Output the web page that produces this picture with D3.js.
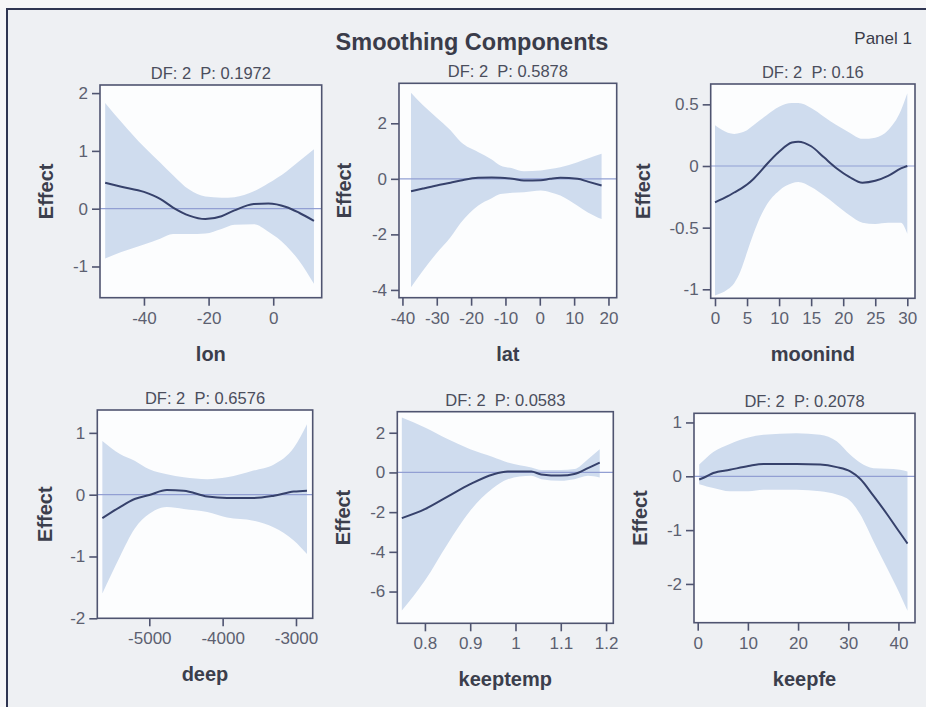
<!DOCTYPE html>
<html>
<head>
<meta charset="utf-8">
<script src="https://cdn.jsdelivr.net/npm/d3@7"></script>
<style>
  html, body { margin: 0; padding: 0; background: #f6f6f8; }
  svg { display: block; font-family: "Liberation Sans", Arial, sans-serif; }
</style>
</head>
<body>
<svg id="chart" width="926" height="707"></svg>
<script>
// ---------------- DATA ----------------
const chartTitle = "Smoothing Components";
const panelTag = "Panel 1";
const panelVars = ["lon", "lat", "moonind", "deep", "keeptemp", "keepfe"];
const panelStats = ["DF: 2  P: 0.1972", "DF: 2  P: 0.5878", "DF: 2  P: 0.16",
                    "DF: 2  P: 0.6576", "DF: 2  P: 0.0583", "DF: 2  P: 0.2078"];
const yLabel = "Effect";

// lon
const lonX     = [-52, -47, -40, -35, -31, -26, -21, -16, -12, -6, -1.5, 4, 8, 12.6];
const lonFit   = [0.45, 0.38, 0.29, 0.17, 0.02, -0.12, -0.18, -0.13, -0.03, 0.08, 0.09, 0.03, -0.07, -0.21];
const lonUpper = [1.83, 1.5, 1.07, 0.8, 0.58, 0.33, 0.21, 0.19, 0.2, 0.3, 0.44, 0.64, 0.82, 1.03];
const lonLower = [-0.86, -0.75, -0.62, -0.52, -0.44, -0.44, -0.43, -0.35, -0.28, -0.27, -0.4, -0.64, -0.9, -1.3];

// lat
const latX     = [-37.5, -34, -30, -26, -23, -18, -14, -11.5, -8, -4.6, 0.3, 3, 6, 11, 14, 18];
const latFit   = [-0.45, -0.35, -0.24, -0.14, -0.06, 0.04, 0.05, 0.04, 0.0, -0.06, -0.05, 0.0, 0.04, 0.0, -0.1, -0.24];
const latUpper = [3.1, 2.65, 2.2, 1.75, 1.33, 0.97, 0.7, 0.48, 0.38, 0.27, 0.3, 0.35, 0.42, 0.6, 0.73, 0.9];
const latLower = [-3.9, -3.3, -2.67, -2.1, -1.58, -0.97, -0.7, -0.55, -0.5, -0.48, -0.42, -0.48, -0.6, -0.97, -1.21, -1.45];

// moonind
const moonX     = [0, 2, 3, 4, 5, 6, 7, 8, 10, 12, 13, 15, 17, 19, 21, 23, 25, 27, 29, 30];
const moonFit   = [-0.295, -0.245, -0.215, -0.185, -0.15, -0.105, -0.05, 0.01, 0.116, 0.19, 0.197, 0.16, 0.07, -0.02, -0.09, -0.135, -0.12, -0.08, -0.02, 0.0];
const moonUpper = [0.33, 0.27, 0.26, 0.27, 0.29, 0.33, 0.37, 0.41, 0.48, 0.51, 0.51, 0.47, 0.4, 0.33, 0.27, 0.22, 0.23, 0.29, 0.45, 0.59];
const moonLower = [-1.05, -1.0, -0.95, -0.85, -0.7, -0.55, -0.42, -0.32, -0.2, -0.14, -0.13, -0.17, -0.24, -0.32, -0.4, -0.46, -0.47, -0.46, -0.46, -0.55];

// deep
const deepX     = [-5640, -5400, -5200, -5000, -4760, -4530, -4210, -3940, -3580, -3300, -3030, -2850];
const deepFit   = [-0.38, -0.2, -0.07, -0.005, 0.075, 0.065, -0.03, -0.054, -0.054, -0.016, 0.05, 0.065];
const deepUpper = [0.87, 0.66, 0.55, 0.41, 0.33, 0.28, 0.25, 0.28, 0.39, 0.49, 0.76, 1.14];
const deepLower = [-1.6, -1.0, -0.55, -0.31, -0.2, -0.23, -0.28, -0.37, -0.42, -0.53, -0.74, -0.96];

// keeptemp
const tempX     = [0.749, 0.8, 0.85, 0.9, 0.95, 0.983, 1.035, 1.057, 1.1, 1.13, 1.16, 1.186];
const tempFit   = [-2.3, -1.85, -1.22, -0.59, -0.1, 0.05, 0.05, -0.1, -0.16, -0.08, 0.22, 0.5];
const tempUpper = [2.77, 2.27, 1.68, 1.17, 0.78, 0.5, 0.25, 0.12, 0.12, 0.17, 0.67, 1.17];
const tempLower = [-6.96, -5.45, -3.6, -1.93, -0.8, -0.34, -0.17, -0.34, -0.42, -0.34, -0.17, -0.25];

// keepfe
const feX     = [0.3, 1.8, 3.1, 6.4, 10.1, 13.1, 19.7, 24.4, 27.7, 30.4, 32.4, 35, 37.7, 40.3, 41.8];
const feFit   = [-0.06, 0.0, 0.06, 0.12, 0.19, 0.23, 0.23, 0.22, 0.17, 0.09, -0.05, -0.36, -0.7, -1.05, -1.25];
const feUpper = [0.22, 0.35, 0.45, 0.6, 0.72, 0.77, 0.8, 0.77, 0.65, 0.4, 0.25, 0.15, 0.14, 0.12, 0.09];
const feLower = [-0.15, -0.19, -0.22, -0.28, -0.28, -0.25, -0.25, -0.28, -0.34, -0.46, -0.71, -1.2, -1.7, -2.19, -2.5];

// axis ticks
const xTicks = [[-40, -20, 0], [-40, -30, -20, -10, 0, 10, 20], [0, 5, 10, 15, 20, 25, 30],
                [-5000, -4000, -3000], [0.8, 0.9, 1, 1.1, 1.2], [0, 10, 20, 30, 40]];
const yTicks = [[-1, 0, 1, 2], [-4, -2, 0, 2], [-1, -0.5, 0, 0.5],
                [-2, -1, 0, 1], [-6, -4, -2, 0, 2], [-2, -1, 0, 1]];
const xDomains = [[-53.6, 15], [-41, 22.4], [-0.67, 31.2], [-5709, -2772], [0.739, 1.216], [-0.74, 43.3]];
const yDomains = [[-1.54, 2.14], [-4.28, 3.44], [-1.073, 0.665], [-2, 1.37], [-7.6, 3.06], [-2.72, 1.17]];

// ---------------- LAYOUT ----------------
const frames = [[100, 85, 321.7, 297.7], [399, 83.3, 616.7, 297.7], [710.7, 84, 915, 298.3],
                [97.3, 410, 312.7, 618.3], [397.3, 411.7, 613.3, 623.3], [694, 413.3, 915, 622.7]];
const yLabelOffsets = [47, 48, 61, 45, 47, 47];

const series = [
  [lonX, lonFit, lonUpper, lonLower],
  [latX, latFit, latUpper, latLower],
  [moonX, moonFit, moonUpper, moonLower],
  [deepX, deepFit, deepUpper, deepLower],
  [tempX, tempFit, tempUpper, tempLower],
  [feX, feFit, feUpper, feLower]
];

const C = {
  band: "#cfdcee", line: "#36416b", zero: "#929fd3", frame: "#4f5470",
  tick: "#5c6070", label: "#3b3e4c", title: "#3a3c4a", plotBg: "#fcfdfe"
};

const svg = d3.select("#chart");

// outer frame
svg.append("rect").attr("x", 7).attr("y", 9).attr("width", 940).attr("height", 720)
  .attr("fill", "#eef0f3").attr("stroke", "#2f3552").attr("stroke-width", 2);

svg.append("text").attr("x", 472).attr("y", 50).attr("text-anchor", "middle")
  .attr("font-size", 23.5).attr("font-weight", "bold").attr("fill", C.title).text(chartTitle);
svg.append("text").attr("x", 912).attr("y", 44).attr("text-anchor", "end")
  .attr("font-size", 17).attr("fill", C.title).text(panelTag);

const fmt = d => String(d);

series.forEach((s, i) => {
  const [L, T, R, B] = frames[i];
  const x = d3.scaleLinear().domain(xDomains[i]).range([L, R]);
  const y = d3.scaleLinear().domain(yDomains[i]).range([B, T]);
  const [xs, fit, up, lo] = s;
  const pts = xs.map((v, k) => ({x: v, f: fit[k], u: up[k], l: lo[k]}));

  const g = svg.append("g");
  const clipId = "clip" + i;
  g.append("clipPath").attr("id", clipId).append("rect")
    .attr("x", L).attr("y", T).attr("width", R - L).attr("height", B - T);

  g.append("rect").attr("x", L).attr("y", T).attr("width", R - L).attr("height", B - T)
    .attr("fill", C.plotBg);

  const inner = g.append("g").attr("clip-path", `url(#${clipId})`);
  inner.append("path").datum(pts)
    .attr("d", d3.area().x(d => x(d.x)).y0(d => y(d.l)).y1(d => y(d.u)).curve(d3.curveMonotoneX))
    .attr("fill", C.band);
  inner.append("line").attr("x1", L).attr("x2", R).attr("y1", y(0)).attr("y2", y(0))
    .attr("stroke", C.zero).attr("stroke-width", 1.2);
  inner.append("path").datum(pts)
    .attr("d", d3.line().x(d => x(d.x)).y(d => y(d.f)).curve(d3.curveMonotoneX))
    .attr("fill", "none").attr("stroke", C.line).attr("stroke-width", 2);

  g.append("rect").attr("x", L).attr("y", T).attr("width", R - L).attr("height", B - T)
    .attr("fill", "none").attr("stroke", C.frame).attr("stroke-width", 1.6);

  const xa = g.append("g").attr("transform", `translate(0,${B})`)
    .call(d3.axisBottom(x).tickValues(xTicks[i]).tickFormat(fmt).tickSize(8).tickPadding(6));
  const ya = g.append("g").attr("transform", `translate(${L},0)`)
    .call(d3.axisLeft(y).tickValues(yTicks[i]).tickFormat(fmt).tickSize(8).tickPadding(4));
  [xa, ya].forEach(a => {
    a.select(".domain").remove();
    a.selectAll(".tick line").attr("stroke", C.frame).attr("stroke-width", 1.6);
    a.selectAll(".tick text").attr("fill", C.tick).attr("font-size", 17)
      .attr("font-family", "Liberation Sans, Arial, sans-serif");
  });

  g.append("text").attr("x", (L + R) / 2).attr("y", T - 6).attr("text-anchor", "middle")
    .attr("font-size", 16.5).attr("fill", "#4a4d5c").style("white-space", "pre").text(panelStats[i]);

  g.append("text").attr("x", (L + R) / 2).attr("y", B + 63).attr("text-anchor", "middle")
    .attr("font-size", 20).attr("font-weight", "bold").attr("fill", C.label).text(panelVars[i]);

  const lx = L - yLabelOffsets[i], ly = (T + B) / 2;
  g.append("text").attr("transform", `translate(${lx},${ly}) rotate(-90)`)
    .attr("text-anchor", "middle").attr("font-size", 20).attr("font-weight", "bold")
    .attr("fill", C.label).text(yLabel);
});
</script>
</body>
</html>
